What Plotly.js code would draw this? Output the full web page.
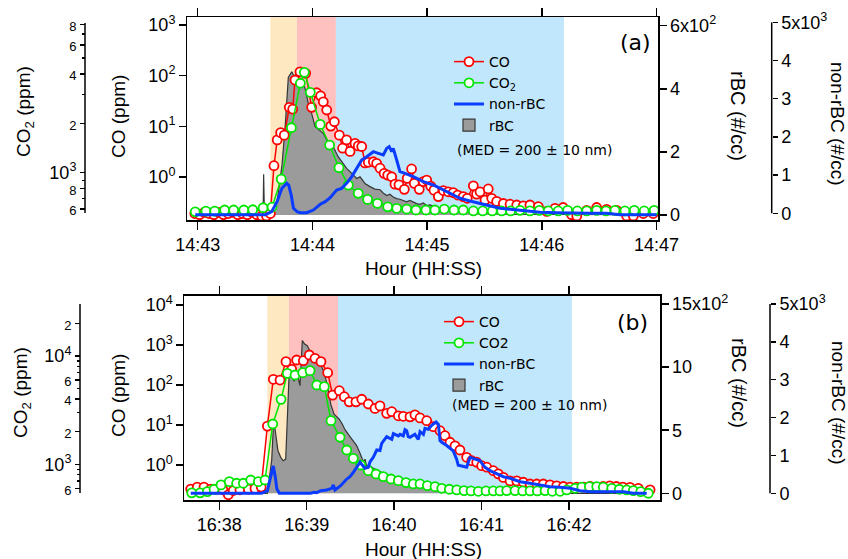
<!DOCTYPE html>
<html><head><meta charset="utf-8">
<script src="https://cdn.plot.ly/plotly-3.0.1.min.js"></script>
<style>html,body{margin:0;padding:0;background:#fff}#chart{width:848px;height:559px}</style>
</head><body><div id="chart"></div>
<script>
// ---------- Panel (a): seconds after 14:43:00 ----------
const coSecA = [-1.5,1,3.5,6,8.5,11,13.5,16,18.5,21,23.5,26,28.5,31,33.5,36,38,39.9,41.6,43.4,45.3,47.9,49.7,50.9,53.5,56.5,59.6,62.2,64.3,65.7,67.5,69.6,71.5,74.1,75.8,77.9,79.7,82.3,84.0,85.8,87.5,89.2,91.9,93.6,95.4,97.5,99.4,101.5,103.2,105.3,108.1,109.6,111.9,113.3,115.9,118.0,119.8,121.9,123.6,125.9,128.5,131.1,133.7,136.0,138.9,141.0,144.2,145.9,147.7,150.3,152.0,153.8,156.4,159.9,163.4,166.9,170.3,173.8,178.2,182.6,186.9,191.2,195.6,198.3,203.5,208.7,213.9,219.2,224.4,227.9,233.1,238.3];
const coA = [0.19,0.18,0.2,0.19,0.18,0.2,0.18,0.19,0.2,0.18,0.19,0.18,0.2,0.18,0.17,0.17,0.19,1.67,5.4,7.5,6.7,23.7,21.9,82,119,111,23.7,46,40,30.5,21,10.1,12.3,6.7,3.7,5.4,3.2,4.6,4.1,4.0,1.9,1.95,2.0,1.86,1.49,1.18,1.09,1.01,0.72,0.70,0.57,0.94,1.44,0.75,0.57,0.81,0.87,0.66,0.55,0.41,0.54,0.51,0.49,0.44,0.41,0.38,0.67,0.46,0.51,0.35,0.58,0.38,0.33,0.30,0.29,0.28,0.27,0.28,0.26,0.21,0.24,0.25,0.18,0.17,0.22,0.25,0.23,0.22,0.17,0.17,0.19,0.19];

const co2SecA = [-1.3,4.3,8.9,14.1,18.8,24.1,28.8,34.2,38.9,43.7,49.0,53.7,55.8,58.9,64.1,69.0,73.9,78.8,84.0,88.9,94.0,99.4,104.1,109.3,114.2,119.4,124.1,129.0,134.1,138.9,144.2,149.1,154.1,159.0,163.7,168.6,173.8,178.7,183.4,188.6,193.5,198.6,203.5,208.7,213.6,218.3,223.5,228.4,233.6,238.8];
const co2A = [578,584,584,593,593,593,595,612,618,915,1880,3510,4090,3090,1970,1475,1073,841,749,688,651,620,607,601,593,593,593,601,593,593,585,585,585,585,585,590,585,590,585,585,590,585,585,590,585,590,585,590,585,590];

const rbcSecA = [-1.3,33.5,34.2,34.5,34.9,36,38.0,41.5,44.1,45.8,47.4,49.2,50.4,51.8,52.8,54.5,56,58,59.6,61.4,63.5,65.7,67.5,70.9,73.5,76.2,77.9,80.6,83.2,84.9,87.5,90.1,92.7,95.4,97,98.9,100.5,102.3,104,105.8,107.5,109.3,111,112.8,114.5,116.3,118,119.8,121.5,123.2,125,126.7,128.5,130.3,132.0,133.7,136,138.9,141.5,144.2,148,152.9,158,165,180,200,220,240];
const rbcA = [0,0,0,129,0,0,10,42,158,285,436,454,440,449,433,425,405,350,322,280,270,259,238,216,185,164,148,132,116,121,100,90,82,80,70,62,66,57,52,50,45,42,46,40,36,34,38,30,32,28,24,21,26,18,16,20,14,13,11,10,8,5,3,2,2,1,1,1];

const nonSecA = [-1.3,35.4,38.7,41.5,43.1,44.1,46.6,47.6,48.9,50.1,52.0,53.5,57.0,60.5,64.1,66.7,69.3,72.7,75.3,77.9,80.6,83.2,85.8,88.4,91.9,94.5,97.1,98.9,100.2,101.5,102.3,104.1,105.8,108.4,112.8,118.0,123.2,128.5,133.9,137.2,142.4,147.7,152.9,158.1,163.4,170.3,179.1,187.8,196.5,205.3,213.9,220.9,231.4,240.1];
const nonA = [-40,-40,42,304,524,654,785,741,482,131,42,16,16,86,236,306,411,607,654,785,960,1178,1396,1483,1613,1570,1527,1701,1745,1614,1701,1396,1090,1047,960,829,742,611,480,393,322,262,191,131,105,68,26,16,0,0,0,-40,-40,-40];

const phaseSecA = [38.0, 51.9, 72.3, 191.6];   // shaded phase boundaries

// ---------- Panel (b): seconds after 16:38:00 ----------
const coSecB = [-19.6,-15.1,-10.5,-5.9,-1.3,2.5,6.2,9.6,14.2,19.9,24.5,28.8,33.0,37.1,41.7,45.8,49.7,53.1,57.7,61.8,65.7,69.8,74.4,77.8,82.4,85.8,89.2,93.8,97.8,102.3,106.9,110.3,114.9,118.4,122.9,126.3,130.9,134.3,137.8,142.4,146.9,151.5,154.9,158.4,161.8,165.2,169.8,173.3,176.7,180.1,183.6,188.1,191.5,195.0,199.6,204.2,208.7,213.3,217.9,222.4,227.0,231.6,236.2,240.8,245.3,250,254.5,259,263.5,268,272.5,277,281.9,287.6,295.7];
const coB = [0.25,0.28,0.28,0.25,0.25,0.24,0.18,0.23,0.24,0.25,0.26,0.28,9.4,139,133,383,247,422,405,562,465,383,203,56,72,51,38,38,44,33.5,26,30,19.6,21.5,17,16.5,16,18,15,12.8,9.1,7.2,5.4,3.7,3.0,2.37,1.56,1.28,1.17,0.96,0.88,0.72,0.60,0.49,0.40,0.40,0.37,0.335,0.335,0.335,0.32,0.30,0.29,0.28,0.28,0.28,0.29,0.28,0.29,0.30,0.29,0.28,0.277,0.26,0.24];

const co2SecB = [-18.9,-13.2,-8.2,-3.6,1.2,6.9,11.9,16.5,21.6,26.8,31.4,36.7,42.4,46.7,52.0,57.3,62.3,66.9,72.1,76.7,82.9,87.5,92.0,97.1,102.3,107.6,112.6,117.9,122.9,128.2,133.2,137.8,142.8,148.1,152.7,157.9,163.0,168.0,172.8,177.8,183.1,188.1,192.7,197.3,203.0,208.3,213.3,218.3,223.6,228.6,233.9,238.5,244.2,248.8,254.0,259.1,263.6,269.4,274.6,279.7,284.2,289.3,294.5];
const co2B = [545,545,559,588,645,691,668,668,716,691,716,2355,3980,6920,6680,7020,7320,5400,5210,2530,1776,1355,1136,985,873,813,768,731,706,677,658,658,635,621,600,588,579,571,567,563,567,567,567,571,571,567,567,567,571,563,563,579,600,614,621,621,614,600,588,579,571,559,540];

const rbcSecB = [-19.6,30,33.0,36.0,37.1,38.2,38.7,40.3,42.2,43.9,45.6,46.7,47.8,49.0,51.3,53.5,55.4,57.0,58.6,60.4,62.7,64.5,66.2,68.0,71.4,74.1,76.5,78.8,82.2,84.4,86.3,89.7,92,94.3,96.6,98.9,100.1,101.2,102.3,105.7,110.3,114.9,119.5,124.1,128.6,133.2,140.0,146.9,156.1,165.2,185.8,200,220,295];
const rbcB = [0,0,0,264,521,516,470,337,285,258,271,573,905,950,887,950,853,1210,1183,1170,1117,1110,1090,1055,975,864,707,628,589,549,504,450,410,378,317,250,270,206,225,198,172,145,124,111,92,74,63,32,18,5,8,3,0,0];

const nonSecB = [-19.6,29.1,33.0,34.8,35.7,37.1,38.5,39.5,41.2,62.7,65.0,66.9,69.6,73.7,77.2,78.3,79.4,83.3,87.5,89.7,92.0,94.3,96.6,100.0,102.3,103.5,105.7,108.1,110.3,111.5,114.9,118.4,119.5,122.9,124.1,126.3,127.5,128.6,129.7,130.9,133.2,134.3,136.6,137.8,140.1,141.2,143.5,144.7,145.8,148.8,150.4,151.5,152.7,156.1,160.6,162.9,164.0,166.4,169.8,172.1,175.5,176.7,179.0,181.2,182.4,185.8,190.4,195.0,199.6,206.5,213.3,220.2,227.0,233.9,240.8,247.6,254.5,266.0,277.4,284.2,293.4];
const nonB = [0,0,69,351,511,723,420,120,0,0,26,16,69,87,132,219,87,201,377,439,554,705,818,660,687,833,951,1144,1131,1320,1496,1426,1576,1515,1558,1515,1681,1655,1496,1479,1540,1558,1426,1628,1558,1717,1690,1761,1796,1884,1822,1391,1350,1263,1118,903,739,720,687,951,903,880,860,740,687,600,528,438,396,304,264,219,174,158,132,69,42,42,42,0,0];

const phaseSecB = [33.0, 47.8, 81.5, 242.0];

// tick labels
const xTickLabelsA = ['14:43','14:44','14:45','14:46','14:47'];
const xTickLabelsB = ['16:38','16:39','16:40','16:41','16:42'];

// ---------- helpers ----------
const BASE_A = Date.UTC(2020,0,1,14,43,0);
const BASE_B = Date.UTC(2020,0,1,16,38,0);
const tA = s => BASE_A + s*1000;
const tB = s => BASE_B + s*1000;
const W = 848, H = 559;
const px = x => x / W, py = y => 1 - y / H;

const RED = '#ff0000', GREEN = '#00e600', BLUE = '#0a3cff';
const ARIAL = 'Liberation Sans, Arial, sans-serif';
const DEJA = 'DejaVu Sans, Verdana, sans-serif';
const small = t => '<span style="font-size:13px">' + t + '</span>';

function panelTraces(suffix, conv, coS, co, co2S, co2, rS, r, nS, n, co2Name, legendId) {
  const ax = suffix === 'a' ? ['x','y','y2','y3','y4'] : ['x2','y5','y6','y7','y8'];
  return [
    {type:'scatter', mode:'lines', x:rS.map(conv), y:r, xaxis:ax[0], yaxis:ax[1], fill:'tozeroy',
     fillcolor:'rgb(155,155,155)', line:{color:'rgb(55,55,55)', width:1.2}, showlegend:false, name:'rBC area'},
    {type:'scatter', mode:'lines+markers', x:coS.map(conv), y:co, xaxis:ax[0], yaxis:ax[2], name:'CO',
     line:{color:RED, width:1.5}, marker:{symbol:'circle', size:9, color:'white', line:{color:RED, width:1.8}}, legend:legendId},
    {type:'scatter', mode:'lines+markers', x:co2S.map(conv), y:co2, xaxis:ax[0], yaxis:ax[3], name:co2Name,
     line:{color:GREEN, width:1.5}, marker:{symbol:'circle', size:9, color:'white', line:{color:GREEN, width:1.8}}, legend:legendId},
    {type:'scatter', mode:'lines', x:nS.map(conv), y:n, xaxis:ax[0], yaxis:ax[4], name:'non-rBC',
     line:{color:BLUE, width:3}, legend:legendId},
    {type:'bar', x:[null], y:[null], xaxis:ax[0], yaxis:ax[1], name:'rBC',
     marker:{color:'rgb(155,155,155)', line:{color:'rgb(55,55,55)', width:1.2}}, legend:legendId}
  ];
}

const data = [].concat(
  panelTraces('a', tA, coSecA, coA, co2SecA, co2A, rbcSecA, rbcA, nonSecA, nonA, 'CO<sub>2</sub>', 'legend'),
  panelTraces('b', tB, coSecB, coB, co2SecB, co2B, rbcSecB, rbcB, nonSecB, nonB, 'CO2', 'legend2')
);

const tickfont = {family:ARIAL, size:18, color:'black'};
const common = {showgrid:false, zeroline:false, ticks:'outside', tickwidth:1.5, tickcolor:'black', linecolor:'black', linewidth:1.5, tickfont:tickfont, fixedrange:true};

const domA = [py(220), py(17)], domB = [py(500), py(295.7)];

const layout = {
  width:W, height:H, margin:{l:0,r:0,t:0,b:0}, paper_bgcolor:'white', plot_bgcolor:'white',
  showlegend:true, bargap:0,
  xaxis: Object.assign({}, common, {domain:[px(187), px(658)], anchor:'y', type:'date',
    range:[tA(-5.6), tA(240.8)], tickvals:[0,60,120,180,240].map(tA), ticktext:xTickLabelsA,
    ticklen:8, showline:true, mirror:'ticks'}),
  yaxis: Object.assign({}, common, {domain:domA, anchor:'x', side:'right', range:[-15.8, 627.6],
    tickvals:[0,200,400,600], ticktext:['0','2','4','6x10<sup>2</sup>'], ticklen:7, showline:true, mirror:true}),
  yaxis2: Object.assign({}, common, {overlaying:'y', anchor:'x', side:'left', type:'log', range:[-0.849, 3.158],
    tickvals:[1,10,100,1000], ticktext:['10<sup>0</sup>','10<sup>1</sup>','10<sup>2</sup>','10<sup>3</sup>'], ticklen:7, showline:false}),
  yaxis3: Object.assign({}, common, {overlaying:'y', anchor:'free', position:px(85), side:'left', type:'log', range:[2.712, 3.949],
    tickvals:[600,800,1000,2000,4000,6000,8000], ticktext:[small('6'),small('8'),'10<sup>3</sup>',small('2'),small('4'),small('6'),small('8')],
    ticklen:5, showline:false, minor:{tickvals:[700,900,3000,5000,7000], ticklen:3, ticks:'outside', tickcolor:'black', tickwidth:1.2}}),
  yaxis4: Object.assign({}, common, {overlaying:'y', anchor:'free', position:px(771.7), side:'right', range:[-175, 5139],
    tickvals:[0,1000,2000,3000,4000,5000], ticktext:['0','1','2','3','4','5x10<sup>3</sup>'], ticklen:5, showline:false}),

  xaxis2: Object.assign({}, common, {domain:[px(184.3), px(660)], anchor:'y5', type:'date',
    range:[tB(-24.0), tB(302.5)], tickvals:[0,60,120,180,240].map(tB), ticktext:xTickLabelsB,
    ticklen:8, showline:true, mirror:'ticks'}),
  yaxis5: Object.assign({}, common, {domain:domB, anchor:'x2', side:'right', range:[-53, 1566],
    tickvals:[0,500,1000,1500], ticktext:['0','5','10','15x10<sup>2</sup>'], ticklen:7, showline:true, mirror:true}),
  yaxis6: Object.assign({}, common, {overlaying:'y5', anchor:'x2', side:'left', type:'log', range:[-0.875, 4.2325],
    tickvals:[1,10,100,1000,10000], ticktext:['10<sup>0</sup>','10<sup>1</sup>','10<sup>2</sup>','10<sup>3</sup>','10<sup>4</sup>'], ticklen:7, showline:false}),
  yaxis7: Object.assign({}, common, {overlaying:'y5', anchor:'free', position:px(80), side:'left', type:'log', range:[2.670, 4.557],
    tickvals:[600,1000,2000,4000,6000,10000,20000], ticktext:[small('6'),'10<sup>3</sup>',small('2'),small('4'),small('6'),'10<sup>4</sup>',small('2')],
    ticklen:5, showline:false, minor:{tickvals:[700,800,900,3000,5000,7000,8000,9000], ticklen:3, ticks:'outside', tickcolor:'black', tickwidth:1.2}}),
  yaxis8: Object.assign({}, common, {overlaying:'y5', anchor:'free', position:px(770), side:'right', range:[-177, 5219],
    tickvals:[0,1000,2000,3000,4000,5000], ticktext:['0','1','2','3','4','5x10<sup>3</sup>'], ticklen:5, showline:false}),

  legend: {x:px(449), y:py(46), xanchor:'left', yanchor:'top', bgcolor:'rgba(0,0,0,0)', borderwidth:0,
    font:{family:DEJA, size:14, color:'black'}, tracegroupgap:0, itemwidth:30},
  legend2: {x:px(439), y:py(306), xanchor:'left', yanchor:'top', bgcolor:'rgba(0,0,0,0)', borderwidth:0,
    font:{family:DEJA, size:14, color:'black'}, tracegroupgap:0, itemwidth:30},

  shapes: [],
  annotations: []
};

// phase shading
const shadeCols = ['rgb(253,232,194)','rgb(255,192,192)','rgb(192,231,251)'];
function addShades(bounds, conv, xr, yr, top) {
  for (let i = 0; i < 3; i++) {
    layout.shapes.push({type:'rect', xref:xr, yref:yr, x0:conv(bounds[i]), x1:conv(bounds[i+1]), y0:0, y1:top,
      fillcolor:shadeCols[i], line:{width:0}, layer:'below'});
  }
}
addShades(phaseSecA, tA, 'x', 'y', 627.6);
addShades(phaseSecB, tB, 'x2', 'y5', 1566);

// free-axis spines
const spine = (x, y0, y1, yref) => ({type:'line', xref:'paper', yref:yref, x0:x, x1:x, y0:y0, y1:y1, line:{color:'black', width:1.5}});
layout.shapes.push(spine(px(85), py(213), py(23), 'paper'));
layout.shapes.push(spine(px(771.7), 0, 5000, 'y4'));
layout.shapes.push(spine(px(80), py(493), py(304), 'paper'));
layout.shapes.push(spine(px(770), 0, 5000, 'y8'));

// titles
function ann(text, x, y, opts) {
  layout.annotations.push(Object.assign({text:text, xref:'paper', yref:'paper', x:px(x), y:py(y), showarrow:false,
    xanchor:'center', yanchor:'middle', font:{family:ARIAL, size:19, color:'black'}}, opts || {}));
}
const rbcTitleFont = {family:ARIAL, size:20, color:'black'};
ann('CO (ppm)', 118, 117, {textangle:-90});
ann('CO<sub>2</sub> (ppm)', 25, 112, {textangle:-90});
ann('rBC (#/cc)', 738, 116, {textangle:90, font:rbcTitleFont});
ann('non-rBC (#/cc)', 838, 124, {textangle:90});
ann('Hour (HH:SS)', 423, 268);
ann('(a)', 635, 42, {font:{family:DEJA, size:22, color:'black'}});
ann('(MED = 200 ± 10 nm)', 455, 150, {xanchor:'left', font:{family:DEJA, size:14, color:'black'}});

ann('CO (ppm)', 118, 396, {textangle:-90});
ann('CO<sub>2</sub> (ppm)', 22, 393, {textangle:-90});
ann('rBC (#/cc)', 739, 383, {textangle:90, font:rbcTitleFont});
ann('non-rBC (#/cc)', 838, 403, {textangle:90});
ann('Hour (HH:SS)', 423, 549);
ann('(b)', 632, 322, {font:{family:DEJA, size:22, color:'black'}});
ann('(MED = 200 ± 10 nm)', 450, 405, {xanchor:'left', font:{family:DEJA, size:14, color:'black'}});

Plotly.newPlot('chart', data, layout, {staticPlot:true, displayModeBar:false});
</script></body></html>
